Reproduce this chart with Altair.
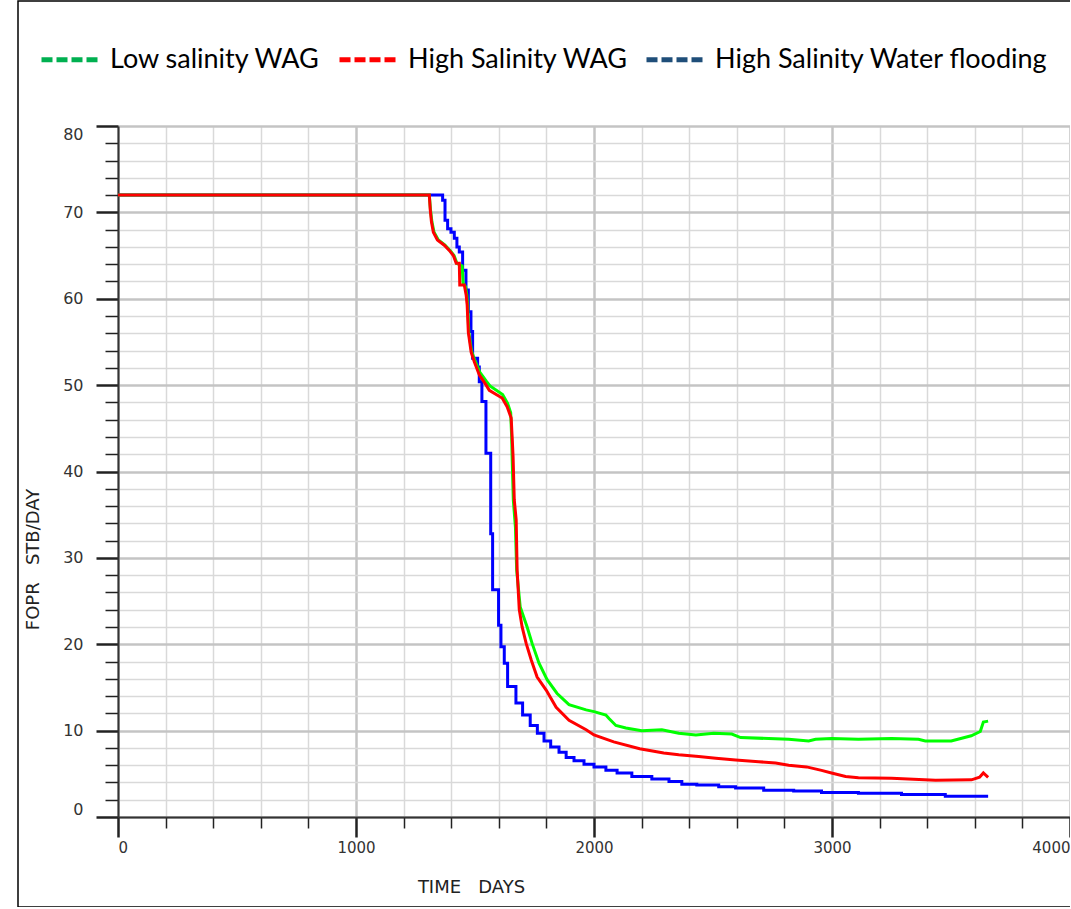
import altair as alt
import pandas as pd

SERIES = ["Low salinity WAG", "High Salinity WAG", "High Salinity Water flooding"]
LINE_COLORS = {"Low salinity WAG": "#00ff00", "High Salinity WAG": "#ff0000",
               "High Salinity Water flooding": "#0000ff"}
LEGEND_COLORS = ["#00b050", "#ff0000", "#1f4e79"]

low_days = [0, 1308, 1313, 1319, 1328, 1346, 1374, 1395, 1412, 1424, 1446, 1450, 1460, 1466,
            1469, 1474, 1486, 1499, 1520, 1549, 1563, 1616, 1637, 1650, 1654, 1656, 1661, 1670,
            1675, 1690, 1719, 1740, 1769, 1803, 1845, 1895, 1967, 2000, 2050, 2063, 2092, 2134,
            2201, 2285, 2356, 2428, 2503, 2579, 2616, 2818, 2902, 2931, 2998, 3111, 3250, 3363,
            3392, 3501, 3585, 3623, 3636, 3656]
low_fopr = [72.0, 72.0, 70.3, 68.9, 67.7, 66.8, 66.2, 65.6, 65.0, 64.1, 63.8, 61.8, 61.4, 60.4,
            59.3, 56.1, 53.9, 52.9, 51.5, 50.4, 49.9, 48.9, 47.9, 46.8, 44.0, 41.7, 36.7, 33.5,
            28.6, 24.3, 22.0, 20.1, 17.8, 15.9, 14.3, 13.0, 12.4, 12.2, 11.8, 11.4, 10.6, 10.3,
            10.0, 10.1, 9.7, 9.5, 9.7, 9.6, 9.2, 9.0, 8.8, 9.0, 9.1, 9.0, 9.1, 9.0,
            8.8, 8.8, 9.4, 9.9, 11.0, 11.1]

high_days = [0, 1308, 1312, 1317, 1325, 1342, 1371, 1392, 1409, 1421, 1434, 1436, 1455, 1463,
             1467, 1472, 1484, 1497, 1518, 1547, 1560, 1614, 1635, 1652, 1656, 1660, 1665, 1673,
             1677, 1686, 1698, 1715, 1736, 1761, 1799, 1841, 1895, 1967, 2000, 2083, 2192, 2293,
             2356, 2440, 2512, 2595, 2692, 2763, 2818, 2893, 2956, 2998, 3057, 3111, 3250, 3435,
             3586, 3620, 3636, 3656]
high_fopr = [72.0, 72.0, 70.3, 68.9, 67.7, 66.8, 66.2, 65.6, 65.0, 64.1, 64.1, 61.6, 61.6, 60.4,
             59.3, 56.1, 53.8, 52.7, 51.2, 50.0, 49.4, 48.5, 47.5, 46.2, 44.0, 41.7, 36.7, 34.4,
             28.6, 24.0, 22.0, 20.1, 18.2, 16.2, 14.7, 12.7, 11.2, 10.1, 9.5, 8.7, 7.9, 7.4,
             7.2, 7.0, 6.8, 6.6, 6.4, 6.25, 6.0, 5.8, 5.4, 5.1, 4.7, 4.55, 4.5, 4.25,
             4.3, 4.6, 5.1, 4.6]

wf_days = [0, 1364, 1374, 1385, 1399, 1413, 1424, 1434, 1448, 1462, 1472, 1483, 1490, 1511,
           1518, 1529, 1546, 1566, 1574, 1599, 1609, 1623, 1637, 1672, 1700, 1732, 1762, 1790,
           1818, 1853, 1883, 1916, 1958, 2000, 2050, 2097, 2159, 2243, 2315, 2369, 2432, 2524,
           2595, 2713, 2839, 2956, 3111, 3292, 3476, 3656]
wf_fopr = [72.0, 71.4, 69.1, 68.1, 67.7, 67.0, 66.0, 65.4, 63.3, 61.0, 58.5, 56.2, 53.1, 52.1,
           50.4, 48.1, 42.1, 32.8, 26.3, 22.2, 19.7, 17.8, 15.1, 13.2, 11.8, 10.6, 9.7, 8.8,
           8.1, 7.5, 6.9, 6.5, 6.1, 5.8, 5.4, 5.1, 4.7, 4.4, 4.1, 3.8, 3.7, 3.5,
           3.35, 3.1, 3.0, 2.85, 2.75, 2.6, 2.4, 2.4]

x_ticks = list(range(0, 4001, 200))
y_ticks = list(range(0, 81, 2))

rows = []
for name, d, v in [(SERIES[0], low_days, low_fopr), (SERIES[1], high_days, high_fopr),
                   (SERIES[2], wf_days, wf_fopr)]:
    rows += [{"series": name, "days": a, "fopr": b} for a, b in zip(d, v)]
df = pd.DataFrame(rows)

AXIS_FONT = "DejaVu Sans"
NB = "\u00a0"


def cond(test, a, b):
    return {"condition": {"test": test, "value": a}, "value": b}


xmaj = "datum.value % 1000 === 0"
ymaj = "datum.value % 10 === 0"

x_axis = alt.Axis(
    values=x_ticks, format="d", title=f"TIME{NB}{NB}{NB}DAYS",
    labelExpr=f"{xmaj} ? datum.label : ''", labelFlush=True,
    grid=True, gridColor=cond(xmaj, "#c4c4c4", "#d9d9d9"),
    gridWidth=cond(xmaj, 2.5, 1.5),
    tickSize=cond(xmaj, 20, 11), tickWidth=cond(xmaj, 2.5, 1.5), tickColor="#222222",
    domainColor="#333333", domainWidth=2,
    labelFont=AXIS_FONT, labelFontSize=15, labelColor="#333333", labelPadding=3,
    titleFont=AXIS_FONT, titleFontSize=18, titleFontWeight="normal", titleColor="#222222",
    titleX=353, titleY=70, titleAlign="center", titleBaseline="middle",
)
y_axis = alt.Axis(
    values=y_ticks, format="d", title=f"FOPR{NB}{NB}{NB}STB/DAY",
    labelExpr=f"{ymaj} ? datum.label : ''", labelFlush=True,
    grid=True, gridColor=cond(ymaj, "#c4c4c4", "#d9d9d9"),
    gridWidth=cond(ymaj, 2.5, 1.5),
    tickSize=cond(ymaj, 22, 13), tickWidth=cond(ymaj, 2.5, 1.5), tickColor="#222222",
    domainColor="#333333", domainWidth=2,
    labelFont=AXIS_FONT, labelFontSize=16, labelColor="#333333", labelPadding=13,
    titleFont=AXIS_FONT, titleFontSize=18, titleFontWeight="normal", titleColor="#222222",
    titleX=-85, titleY=433, titleAngle=270, titleAlign="center", titleBaseline="middle",
)

xs = alt.Scale(domain=[0, 4000], nice=False)
ys = alt.Scale(domain=[0, 80], nice=False)

frame = alt.Chart(alt.Data(values=[{}])).mark_rect(
    filled=False, stroke="#000000", strokeWidth=1.5
).encode(x=alt.value(-100), x2=alt.value(1100), y=alt.value(-125), y2=alt.value(781))

legend_layer = alt.Chart(df).mark_line(opacity=0).encode(
    x=alt.X("days:Q", scale=xs, axis=x_axis),
    y=alt.Y("fopr:Q", scale=ys, axis=y_axis),
    color=alt.Color(
        "series:N", sort=SERIES,
        scale=alt.Scale(domain=SERIES, range=LEGEND_COLORS),
        legend=alt.Legend(
            title=None, orient="none", legendX=-79, legendY=-97, direction="horizontal",
            symbolType="stroke", symbolDash=[11, 4], symbolStrokeWidth=5, symbolSize=3136,
            symbolOpacity=1, labelFont="Lato", labelFontSize=27, labelColor="#000000",
            labelOffset=10, columnPadding=8, labelLimit=500,
        ),
    ),
)


def series_layer(name, interp):
    return alt.Chart(df).transform_filter(alt.datum.series == name).mark_line(
        color=LINE_COLORS[name], strokeWidth=3, interpolate=interp
    ).encode(
        x=alt.X("days:Q", scale=xs, axis=x_axis),
        y=alt.Y("fopr:Q", scale=ys, axis=y_axis),
    )


chart = alt.layer(
    frame,
    legend_layer,
    series_layer(SERIES[2], "step-after"),
    series_layer(SERIES[0], "linear"),
    series_layer(SERIES[1], "linear"),
).resolve_scale(color="independent").properties(
    width=952, height=691,
    autosize=alt.AutoSizeParams(type="none"),
    padding={"left": 118, "top": 126, "right": 0, "bottom": 90},
    background="white",
).configure_view(stroke=None)

chart.save("out.html", embed_options={"renderer": "svg", "actions": False})
